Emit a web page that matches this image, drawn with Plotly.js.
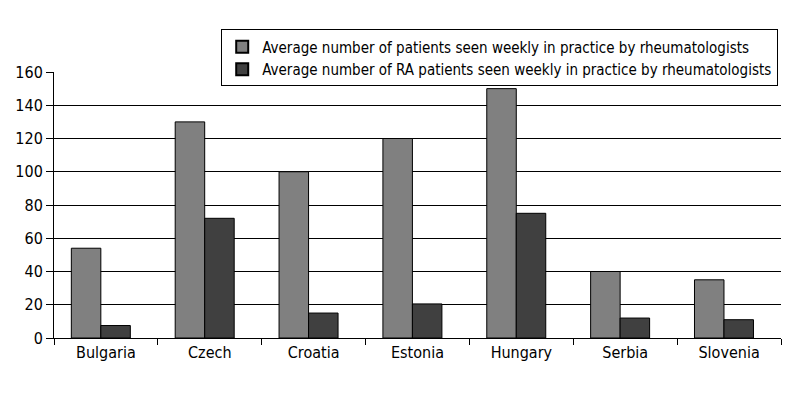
<!DOCTYPE html>
<html>
<head>
<meta charset="utf-8">
<script src="https://cdn.plot.ly/plotly-3.0.1.min.js"></script>
<style>
body{margin:0;background:#fff;}
#chart{width:800px;height:400px;}
#chart text{font-stretch:condensed !important;}
</style>
</head>
<body>
<div id="chart"></div>
<script>
const countries = ["Bulgaria", "Czech", "Croatia", "Estonia", "Hungary", "Serbia", "Slovenia"];
const allPatients = [54, 130, 100, 120, 150, 40, 35];
const raPatients = [7.5, 72, 15, 20.5, 75, 12, 11];
const seriesNames = [
  "Average number of patients seen weekly in practice by rheumatologists",
  "Average number of RA patients seen weekly in practice by rheumatologists"
];
const yTicks = [0, 20, 40, 60, 80, 100, 120, 140, 160];

const FONT = "'Liberation Sans Narrow', 'DejaVu Sans Condensed', 'DejaVu Sans', sans-serif";

const traces = [
  {type: "bar", x: countries, y: allPatients, name: seriesNames[0],
   width: 0.284, offset: -0.333,
   marker: {color: "#808080", line: {color: "#000", width: 1}}},
  {type: "bar", x: countries, y: raPatients, name: seriesNames[1],
   width: 0.284, offset: -0.049,
   marker: {color: "#404040", line: {color: "#000", width: 1}}}
];

const layout = {
  width: 800, height: 400,
  margin: {l: 54, r: 19, t: 72, b: 62, autoexpand: false},
  paper_bgcolor: "#fff", plot_bgcolor: "#fff",
  font: {family: FONT, size: 16, color: "#000"},
  barmode: "group",
  showlegend: true,
  legend: {x: 0.23, xanchor: "left", y: 1.16, yanchor: "top",
           bgcolor: "#fff", bordercolor: "#000", borderwidth: 1,
           font: {family: FONT, size: 15, color: "#000"},
           tracegroupgap: 0, itemsizing: "constant"},
  xaxis: {type: "category", showline: true, linecolor: "#000", linewidth: 1,
          ticks: "outside", tickson: "boundaries", ticklen: 6, tickcolor: "#000",
          tickangle: 0, automargin: false,
          showgrid: false, tickfont: {family: FONT, size: 16, color: "#000"}},
  yaxis: {range: [0, 160], tickvals: yTicks, showline: true, linecolor: "#000", linewidth: 1,
          ticks: "outside", ticklen: 7, tickcolor: "#000", automargin: false,
          showgrid: true, gridcolor: "#000", gridwidth: 1, zeroline: false,
          tickfont: {family: FONT, size: 16, color: "#000"}}
};

Plotly.newPlot("chart", traces, layout, {displayModeBar: false, staticPlot: true});
</script>
</body>
</html>
